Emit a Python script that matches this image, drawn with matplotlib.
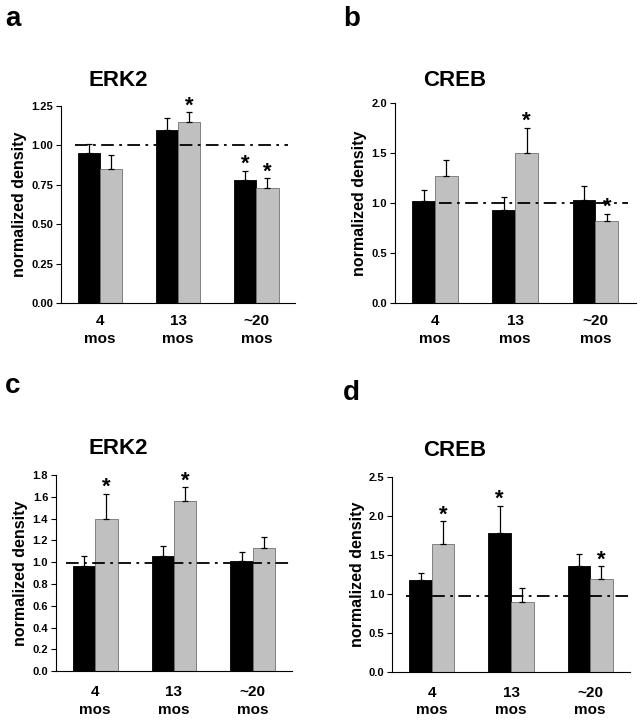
import numpy as np
import matplotlib.pyplot as plt

plt.rcParams['font.family'] = ['Liberation Sans', 'DejaVu Sans']
plt.rcParams['font.weight'] = 'bold'

# etiquetas de los grupos de edad
grupos = ['4\nmos', '13\nmos', '~20\nmos']

# panel a: ERK2
a_negro = [0.95, 1.10, 0.78]
a_negro_err = [0.06, 0.07, 0.06]
a_gris = [0.85, 1.15, 0.73]
a_gris_err = [0.09, 0.06, 0.06]
a_estrellas = [(1, 'gris'), (2, 'negro'), (2, 'gris')]

# panel b: CREB
b_negro = [1.02, 0.93, 1.03]
b_negro_err = [0.11, 0.13, 0.14]
b_gris = [1.27, 1.50, 0.82]
b_gris_err = [0.16, 0.25, 0.07]
b_estrellas = [(1, 'gris'), (2, 'gris')]

# panel c: ERK2
c_negro = [0.97, 1.06, 1.01]
c_negro_err = [0.09, 0.09, 0.08]
c_gris = [1.40, 1.56, 1.13]
c_gris_err = [0.23, 0.13, 0.10]
c_estrellas = [(0, 'gris'), (1, 'gris')]

# panel d: CREB
d_negro = [1.17, 1.78, 1.35]
d_negro_err = [0.10, 0.35, 0.16]
d_gris = [1.64, 0.90, 1.19]
d_gris_err = [0.29, 0.17, 0.16]
d_estrellas = [(0, 'gris'), (1, 'negro'), (2, 'gris')]

ancho = 0.285
gris = '#c0c0c0'


def panel(ax, negro, negro_err, gris_v, gris_err, estrellas, ylim, ticks, fmt,
          ref, tramo, pad_x=8):
    x = np.arange(len(grupos))
    ax.bar(x - ancho / 2, negro, ancho, color='black', edgecolor='black',
           linewidth=0.6, zorder=2)
    ax.bar(x + ancho / 2, gris_v, ancho, color=gris, edgecolor='#707070',
           linewidth=0.6, zorder=2)
    ax.errorbar(x - ancho / 2, negro, yerr=[np.zeros(3), negro_err], fmt='none',
                ecolor='black', elinewidth=0.9, capsize=2.2, capthick=0.9, zorder=3)
    ax.errorbar(x + ancho / 2, gris_v, yerr=[np.zeros(3), gris_err], fmt='none',
                ecolor='black', elinewidth=0.9, capsize=2.2, capthick=0.9, zorder=3)
    ax.plot(tramo, [ref, ref], color='black', linewidth=1.3,
            linestyle=(0, (7, 3, 1.5, 3)), zorder=4)
    for g, serie in estrellas:
        if serie == 'negro':
            xs, top = g - ancho / 2, negro[g] + negro_err[g]
        else:
            xs, top = g + ancho / 2, gris_v[g] + gris_err[g]
        ax.annotate('*', (xs, top), xytext=(0, -3), textcoords='offset points',
                    ha='center', va='bottom', fontsize=16, fontweight='bold',
                    zorder=5)
    ax.set_xlim(-0.5, 2.5)
    ax.set_ylim(*ylim)
    ax.set_yticks(ticks)
    ax.set_yticklabels([fmt.format(t) for t in ticks], fontsize=8,
                       fontweight='bold')
    ax.set_xticks(x)
    ax.set_xticklabels(grupos, fontsize=11, fontweight='bold', linespacing=1.35)
    ax.tick_params(axis='x', length=0, pad=pad_x)
    ax.tick_params(axis='y', length=3.5, width=0.8, pad=2)
    ax.spines['top'].set_visible(False)
    ax.spines['right'].set_visible(False)
    ax.spines['left'].set_linewidth(0.8)
    ax.spines['bottom'].set_linewidth(0.8)
    ax.set_ylabel('normalized density', fontsize=11.5, fontweight='bold',
                  labelpad=3)


fig = plt.figure(figsize=(6.42, 7.2), dpi=100)
ax_a = fig.add_axes([0.095, 0.579, 0.365, 0.274])
ax_b = fig.add_axes([0.615, 0.579, 0.375, 0.278])
ax_c = fig.add_axes([0.087, 0.068, 0.368, 0.272])
ax_d = fig.add_axes([0.611, 0.067, 0.370, 0.271])

panel(ax_a, a_negro, a_negro_err, a_gris, a_gris_err, a_estrellas, (0, 1.25),
      np.arange(0, 1.26, 0.25), '{:.2f}', 1.0, [-0.32, 2.41])
panel(ax_b, b_negro, b_negro_err, b_gris, b_gris_err, b_estrellas, (0, 2.0),
      np.arange(0, 2.01, 0.5), '{:.1f}', 1.0, [0.05, 2.4])
panel(ax_c, c_negro, c_negro_err, c_gris, c_gris_err, c_estrellas, (0, 1.8),
      np.arange(0, 1.81, 0.2), '{:.1f}', 0.99, [-0.37, 2.47], pad_x=10)
panel(ax_d, d_negro, d_negro_err, d_gris, d_gris_err, d_estrellas, (0, 2.5),
      np.arange(0, 2.51, 0.5), '{:.1f}', 0.97, [-0.33, 2.49], pad_x=10)

# titulos de cada panel
for titulo, (px, py) in zip(['ERK2', 'CREB', 'ERK2', 'CREB'],
                            [(118, 80), (455, 80), (118, 449), (455, 450)]):
    fig.text(px / 642, 1 - py / 720, titulo, fontsize=16, fontweight='bold',
             ha='center', va='center')

for letra, (px, py) in zip('abcd', [(5, 26), (343, 26), (5, 393), (343, 400)]):
    fig.text(px / 642, 1 - py / 720, letra, fontsize=20, fontweight='bold',
             ha='left', va='baseline')

fig.savefig('out.png', dpi=100)
